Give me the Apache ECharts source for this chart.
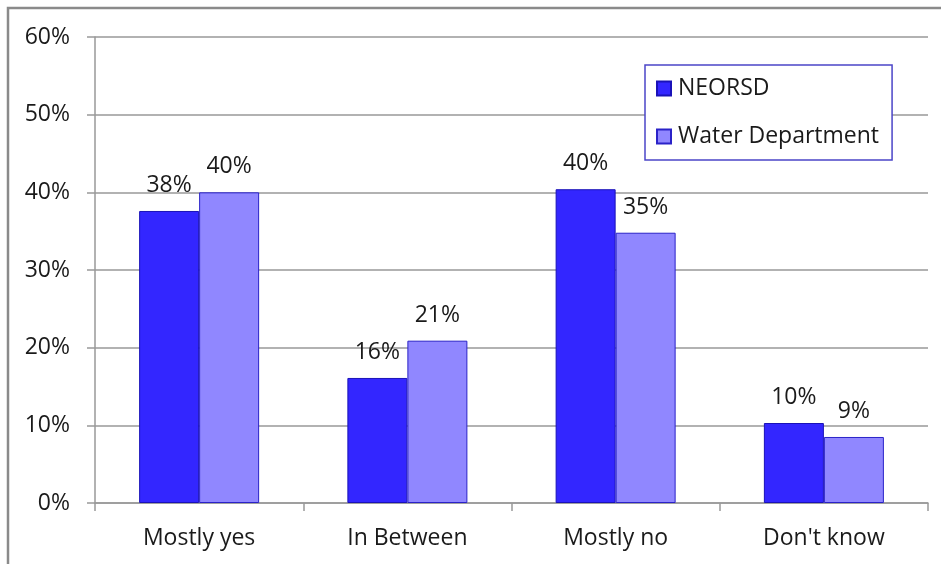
<!DOCTYPE html>
<html>
<head>
<meta charset="utf-8">
<script src="https://cdn.jsdelivr.net/npm/echarts@6/dist/echarts.min.js"></script>
<style>html,body{margin:0;padding:0;background:#fff}#c{width:941px;height:564px}</style>
</head>
<body>
<div id="c"></div>
<script>
var categories = ["Mostly yes", "In Between", "Mostly no", "Don't know"];
var neorsd = [37.6, 16.1, 40.4, 10.3];
var waterDept = [40.0, 20.9, 34.8, 8.5];
var neorsdLabels = ["38%", "16%", "40%", "10%"];
var waterLabels = ["40%", "21%", "35%", "9%"];
var yTicks = [0, 10, 20, 30, 40, 50, 60];

var FONT = "Open Sans";
var FS = 23;
var chart = echarts.init(document.getElementById('c'), null, {renderer: 'canvas'});
function lbl(arr) {
  return {show: true, position: 'top', distance: 14, fontFamily: FONT, fontSize: FS, color: '#1a1a1a',
    formatter: function (p) { return arr[p.dataIndex]; }};
}
chart.setOption({
  animation: false,
  backgroundColor: '#fff',
  graphic: [{type: 'rect', shape: {x: 8, y: 8, width: 960, height: 600},
    style: {fill: 'none', stroke: '#8a8a8a', lineWidth: 2.5}, silent: true, z: 100}],
  grid: {left: 95, right: 13, top: 37, bottom: 61},
  legend: {
    orient: 'vertical', left: 645, top: 65,
    padding: [12, 13, 12, 11], itemGap: 25, itemWidth: 14, itemHeight: 14,
    borderColor: '#4b45c8', borderWidth: 1.5, backgroundColor: '#fff',
    icon: 'rect',
    textStyle: {fontFamily: FONT, fontSize: FS, color: '#1a1a1a', lineHeight: 22, padding: [0, 0, 0, 2]},
    data: ['NEORSD', 'Water Department']
  },
  xAxis: {
    type: 'category', data: categories,
    axisLine: {lineStyle: {color: '#999', width: 1.5}},
    axisTick: {show: true, length: 8, inside: false, lineStyle: {color: '#999', width: 1.5}},
    axisLabel: {fontFamily: FONT, fontSize: FS, color: '#1a1a1a', margin: 24}
  },
  yAxis: {
    type: 'value', min: 0, max: 60, interval: 10,
    axisLine: {show: true, lineStyle: {color: '#999', width: 1.5}},
    axisTick: {show: true, length: 8, lineStyle: {color: '#999', width: 1.5}},
    splitLine: {lineStyle: {color: '#999', width: 1.5}},
    axisLabel: {fontFamily: FONT, fontSize: FS, color: '#1a1a1a', margin: 25,
      formatter: function (v) { return yTicks.indexOf(v) >= 0 ? v + '%' : ''; }}
  },
  series: [
    {name: 'NEORSD', type: 'bar', data: neorsd, barWidth: 60, barGap: '0%',
      itemStyle: {color: '#3326ff', borderColor: '#1a12b8', borderWidth: 1}, label: lbl(neorsdLabels)},
    {name: 'Water Department', type: 'bar', data: waterDept, barWidth: 60,
      itemStyle: {color: '#9087ff', borderColor: '#2a22c8', borderWidth: 1}, label: lbl(waterLabels)}
  ]
});
</script>
</body>
</html>
